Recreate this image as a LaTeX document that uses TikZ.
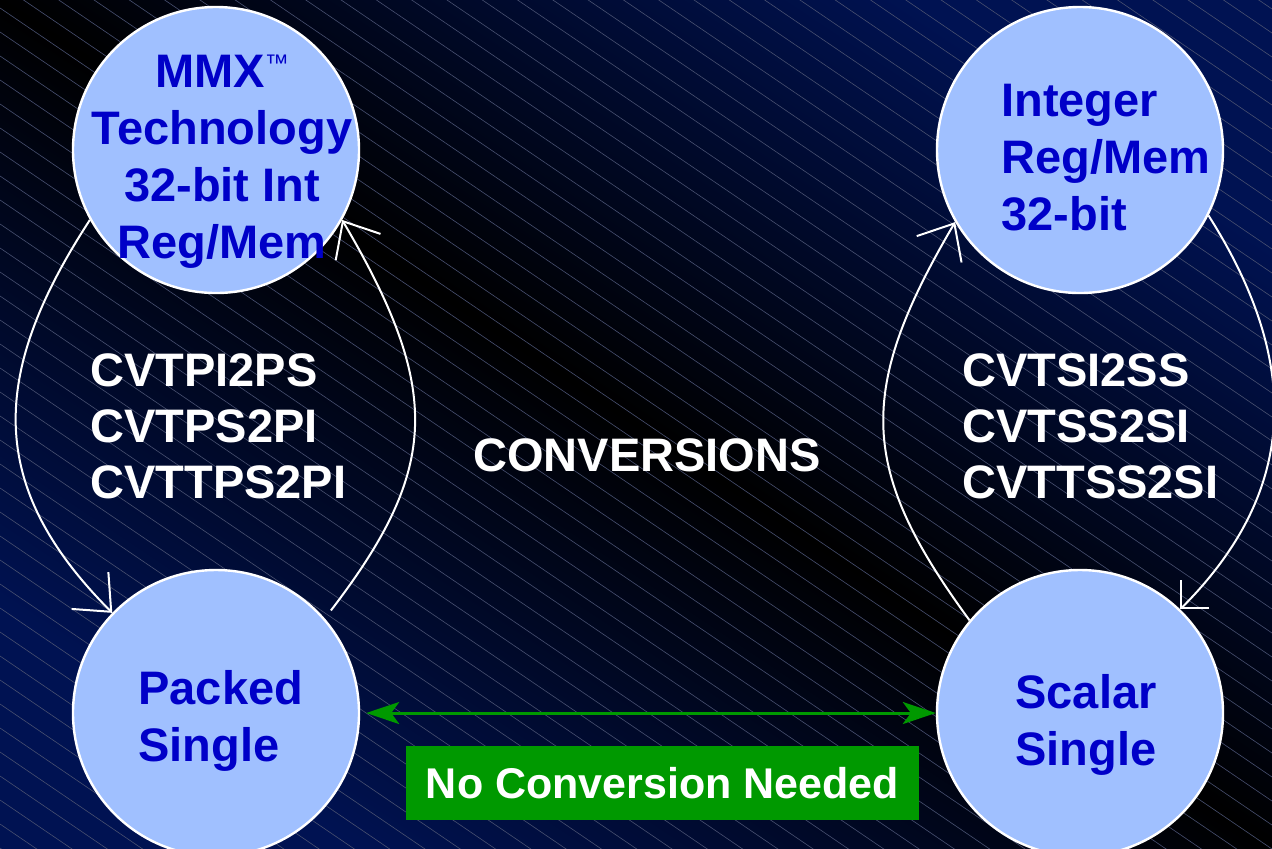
\documentclass[tikz,border=0pt]{standalone}
\usepackage{fontspec}
\setmainfont{Liberation Sans}
\usetikzlibrary{arrows.meta}
\definecolor{bgblue}{HTML}{001252}
\definecolor{circfill}{HTML}{A0C0FF}
\definecolor{circtext}{HTML}{0000C8}
\definecolor{stripe}{HTML}{485070}
\definecolor{okgreen}{HTML}{009900}
\begin{document}
\begin{tikzpicture}[x=0.5pt,y=-0.5pt,
  state/.style={circle, draw=white, line width=1.2pt, fill=circfill, minimum size=143pt, inner sep=0pt},
  bluetext/.style={text=circtext, font=\fontsize{23.5}{28.5}\selectfont\bfseries, inner sep=0pt},
  whitetext/.style={text=white, font=\fontsize{23.5}{28}\selectfont\bfseries, inner sep=0pt},
  conv/.style={draw=white, line width=1pt, -{Straight Barb[length=15pt,width=26pt,line width=1pt]}},
  convsmall/.style={draw=white, line width=1pt, -{Straight Barb[length=10pt,width=20pt,line width=1pt]}},
  greenarrow/.style={draw=okgreen, line width=1.5pt, {Stealth[length=16.5pt,width=11pt,inset=4pt]}-{Stealth[length=16.5pt,width=11pt,inset=4pt]}},
  greenbox/.style={fill=okgreen, text=white, font=\fontsize{21.5}{25}\selectfont\bfseries, minimum width=256.5pt, minimum height=37pt, inner sep=0pt}
]
% background
\path[use as bounding box] (0,0) rectangle (1272,848);
\shade[top color=bgblue, bottom color=bgblue, middle color=black, shading angle=-33.7] (0,0) rectangle (1272,848);
\begin{scope}
  \clip (0,0) rectangle (1272,848);
  \foreach \yy in {-880,-856,...,860}
    \draw[stripe, line width=0.3pt] (0,\yy) -- (1272,\yy+865);
\end{scope}

% circles
\node[state] (mmx) at (216,150) {};
\node[state] (ps)  at (216,713) {};
\node[state] (int) at (1080,150) {};
\node[state] (sc)  at (1080,713) {};

% circle texts
\node[bluetext, align=center, anchor=north] (mmxt) at (222,53)
  {\rule{0pt}{17pt}MMX\raisebox{8.2pt}{\fontsize{12}{12}\selectfont\mdseries ™}\\Technology\\32-bit Int\\Reg/Mem};
\node[bluetext, align=left, anchor=north west] (intt) at (1001,82)
  {\rule{0pt}{17pt}Integer\\Reg/Mem\\32-bit};
\node[bluetext, align=left, anchor=north west] (pst) at (138,670)
  {\rule{0pt}{17pt}Packed\\Single};
\node[bluetext, align=left, anchor=north west] (sct) at (1015,674)
  {\rule{0pt}{17pt}Scalar\\Single};

% white labels
\node[whitetext, align=left, anchor=north west] (lcodes) at (90,352)
  {\rule{0pt}{17pt}CVTPI2PS\\CVTPS2PI\\CVTTPS2PI};
\node[whitetext, align=left, anchor=north west] (rcodes) at (962,352)
  {\rule{0pt}{17pt}CVTSI2SS\\CVTSS2SI\\CVTTSS2SI};
\node[whitetext, anchor=north] (convs) at (647,437) {\rule{0pt}{17pt}CONVERSIONS};

% conversion arcs
\draw[conv] (mmx.209) .. controls +(-99,152) and +(-128,-128) .. (ps.136);
\draw[conv, shorten <=5pt] (ps.41) .. controls +(115,-150) and +(100,170) .. (mmx.331);
\draw[conv] (sc.140) .. controls +(-110,-150) and +(-100,170) .. (int.210);
\draw[convsmall] (int.333) .. controls +(92,145) and +(120,-120) .. (sc.46);

% no conversion
\draw[greenarrow, shorten <=3pt] (ps.east) -- (sc.west);
\node[greenbox] (ncn) at (662.5,783) {No Conversion Needed};
\end{tikzpicture}
\end{document}
